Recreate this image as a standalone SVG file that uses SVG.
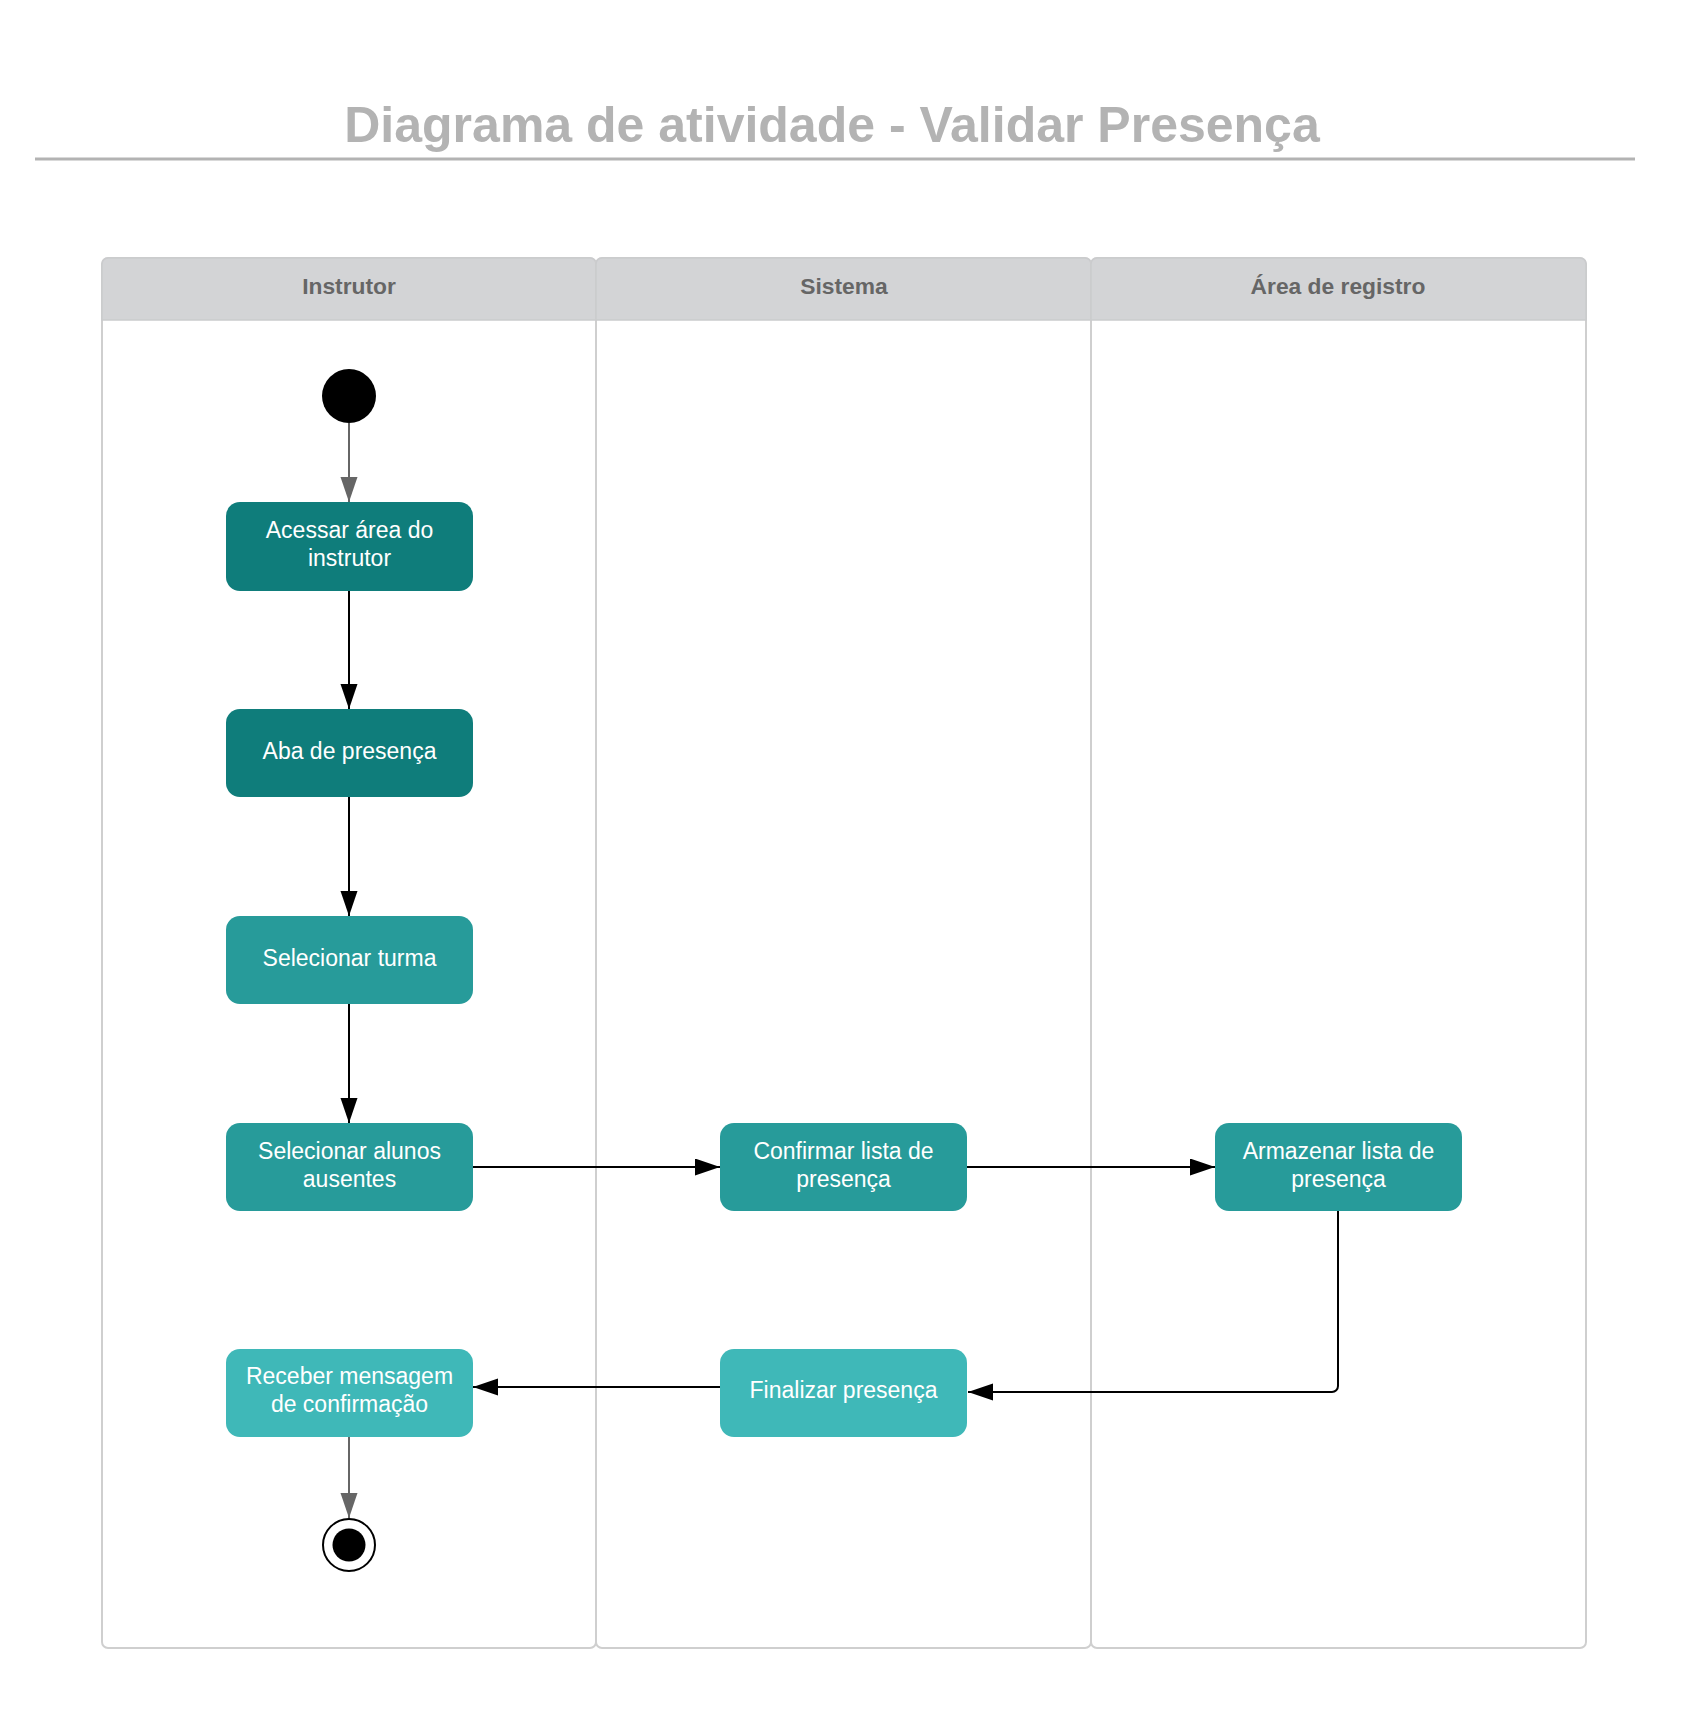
<svg xmlns="http://www.w3.org/2000/svg" width="1697" height="1711" viewBox="0 0 1697 1711">
<style>
.lane{fill:#ffffff;stroke:#cfcfcf;stroke-width:2}
.hdr{fill:#d3d4d6;stroke:#cacbcd;stroke-width:1.5}
.hdrt{font-family:"Liberation Sans",Arial,sans-serif;font-weight:bold;font-size:22.8px;fill:#666666;text-anchor:middle}
.nt{font-family:"Liberation Sans",Arial,sans-serif;font-size:23px;fill:#ffffff;text-anchor:middle}
.c1{fill:#0f7d7b}
.c2{fill:#279b9a}
.c3{fill:#3fb8b8}
.e{fill:none;stroke:#000000;stroke-width:2}
.eg{fill:none;stroke:#666666;stroke-width:2}
</style>
<defs>
<marker id="ab" markerWidth="26" markerHeight="18" refX="25" refY="8.5" orient="auto" markerUnits="userSpaceOnUse">
<path d="M0,0 L25,8.5 L0,17 Z" fill="#000000"/>
</marker>
<marker id="ag" markerWidth="26" markerHeight="18" refX="25" refY="8.5" orient="auto" markerUnits="userSpaceOnUse">
<path d="M0,0 L25,8.5 L0,17 Z" fill="#666666"/>
</marker>
</defs>
<rect width="1697" height="1711" fill="#ffffff"/>
<g id="title">
<text x="832" y="142" font-family="Liberation Sans,Arial,sans-serif" font-weight="bold" font-size="50" fill="#b3b3b3" text-anchor="middle">Diagrama de atividade - Validar Presença</text>
<line x1="35" y1="159" x2="1635" y2="159" stroke="#b3b3b3" stroke-width="3"/>
</g>
<g id="lane-instrutor">
<rect class="lane" x="102" y="258" width="494" height="1390" rx="6"/>
<path class="hdr" d="M102,320 V264 a6,6 0 0 1 6,-6 H590 a6,6 0 0 1 6,6 V320 Z"/>
<text class="hdrt" x="349" y="294">Instrutor</text>
</g>
<g id="lane-sistema">
<rect class="lane" x="596" y="258" width="495" height="1390" rx="6"/>
<path class="hdr" d="M596,320 V264 a6,6 0 0 1 6,-6 H1085 a6,6 0 0 1 6,6 V320 Z"/>
<text class="hdrt" x="844" y="294">Sistema</text>
</g>
<g id="lane-registro">
<rect class="lane" x="1091" y="258" width="495" height="1390" rx="6"/>
<path class="hdr" d="M1091,320 V264 a6,6 0 0 1 6,-6 H1580 a6,6 0 0 1 6,6 V320 Z"/>
<text class="hdrt" x="1338" y="294">Área de registro</text>
</g>
<g id="connectors">
<line class="eg" x1="349" y1="423" x2="349" y2="502" marker-end="url(#ag)"/>
<line class="e" x1="349" y1="591" x2="349" y2="709" marker-end="url(#ab)"/>
<line class="e" x1="349" y1="797" x2="349" y2="916" marker-end="url(#ab)"/>
<line class="e" x1="349" y1="1004" x2="349" y2="1123" marker-end="url(#ab)"/>
<line class="e" x1="473" y1="1167" x2="720" y2="1167" marker-end="url(#ab)"/>
<line class="e" x1="967" y1="1167" x2="1215" y2="1167" marker-end="url(#ab)"/>
<path class="e" d="M1338,1210 V1386 a6,6 0 0 1 -6,6 H968" marker-end="url(#ab)"/>
<line class="e" x1="720" y1="1387" x2="473" y2="1387" marker-end="url(#ab)"/>
<line class="eg" x1="349" y1="1436" x2="349" y2="1518" marker-end="url(#ag)"/>
</g>
<g id="start">
<circle cx="349" cy="396" r="27" fill="#000000"/>
</g>
<g id="n1">
<rect class="c1" x="226" y="502" width="247" height="89" rx="14"/>
<text class="nt" x="349.5" y="538">Acessar área do</text>
<text class="nt" x="349.5" y="566">instrutor</text>
</g>
<g id="n2">
<rect class="c1" x="226" y="709" width="247" height="88" rx="14"/>
<text class="nt" x="349.5" y="759">Aba de presença</text>
</g>
<g id="n3">
<rect class="c2" x="226" y="916" width="247" height="88" rx="14"/>
<text class="nt" x="349.5" y="966">Selecionar turma</text>
</g>
<g id="n4">
<rect class="c2" x="226" y="1123" width="247" height="88" rx="14"/>
<text class="nt" x="349.5" y="1159">Selecionar alunos</text>
<text class="nt" x="349.5" y="1187">ausentes</text>
</g>
<g id="n5">
<rect class="c2" x="720" y="1123" width="247" height="88" rx="14"/>
<text class="nt" x="843.5" y="1159">Confirmar lista de</text>
<text class="nt" x="843.5" y="1187">presença</text>
</g>
<g id="n6">
<rect class="c2" x="1215" y="1123" width="247" height="88" rx="14"/>
<text class="nt" x="1338.5" y="1159">Armazenar lista de</text>
<text class="nt" x="1338.5" y="1187">presença</text>
</g>
<g id="n7">
<rect class="c3" x="226" y="1349" width="247" height="88" rx="14"/>
<text class="nt" x="349.5" y="1384">Receber mensagem</text>
<text class="nt" x="349.5" y="1412">de confirmação</text>
</g>
<g id="n8">
<rect class="c3" x="720" y="1349" width="247" height="88" rx="14"/>
<text class="nt" x="843.5" y="1398">Finalizar presença</text>
</g>
<g id="end">
<circle cx="349" cy="1545" r="26" fill="#ffffff" stroke="#000000" stroke-width="2"/>
<circle cx="349" cy="1545" r="16.5" fill="#000000"/>
</g>
</svg>
